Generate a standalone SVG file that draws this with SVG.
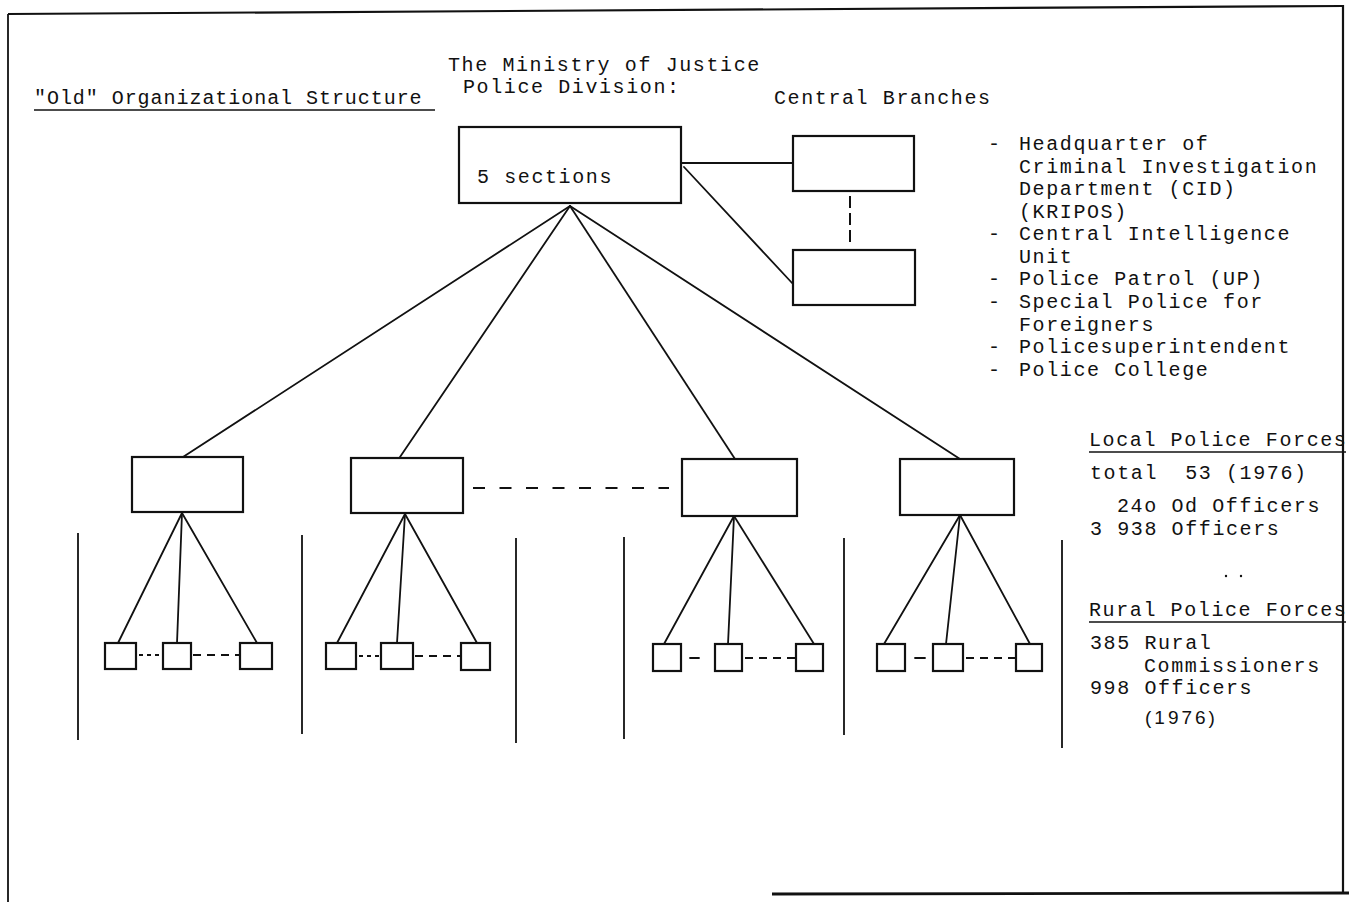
<svg xmlns="http://www.w3.org/2000/svg" width="1349" height="905" viewBox="0 0 1349 905">
<style>
  .bg{fill:#fff}
  .box{fill:none;stroke:#111;stroke-width:2.2}
  .ln{fill:none;stroke:#111;stroke-width:1.8;stroke-linecap:round}
  .sep{fill:none;stroke:#111;stroke-width:1.8}
  .frame{fill:none;stroke:#111;stroke-width:2.2}
  .dash{fill:none;stroke:#111;stroke-width:2;stroke-dasharray:12 14.5}
  .dot{fill:none;stroke:#111;stroke-width:2;stroke-dasharray:4 4}
  .dsh{fill:none;stroke:#111;stroke-width:2;stroke-dasharray:8 6}
  .t{font-family:"Liberation Mono","DejaVu Sans Mono",monospace;font-size:20px;letter-spacing:1.6px;fill:#111}
  .u{fill:none;stroke:#111;stroke-width:1.4}
  .s{font-family:"Liberation Sans","DejaVu Sans",sans-serif;font-size:19px;letter-spacing:3px;fill:#111}
</style>
<rect class="bg" x="0" y="0" width="1349" height="905"/>
<g id="frame">
  <line class="frame" x1="8" y1="14" x2="1343" y2="6"/>
  <line class="frame" x1="1343" y1="5" x2="1343" y2="893"/>
  <line class="sep" x1="8" y1="14" x2="8" y2="902"/>
  <line class="frame" x1="772" y1="894" x2="1349" y2="893" style="stroke-width:2.8"/>
</g>
<g id="titles">
  <text class="t" x="448" y="71">The Ministry of Justice</text>
  <text class="t" x="463" y="93">Police Division:</text>
  <text class="t" x="34" y="104" style="letter-spacing:0.95px">"Old" Organizational Structure</text>
  <line class="u" x1="34" y1="110" x2="435" y2="110"/>
  <text class="t" x="774" y="104">Central Branches</text>
</g>
<g id="central-list">
  <text class="t" x="988" y="150">-</text>
  <text class="t" x="1019" y="150">Headquarter of</text>
  <text class="t" x="1019" y="173">Criminal Investigation</text>
  <text class="t" x="1019" y="195">Department (CID)</text>
  <text class="t" x="1019" y="218">(KRIPOS)</text>
  <text class="t" x="988" y="240">-</text>
  <text class="t" x="1019" y="240">Central Intelligence</text>
  <text class="t" x="1019" y="263">Unit</text>
  <text class="t" x="988" y="285">-</text>
  <text class="t" x="1019" y="285">Police Patrol (UP)</text>
  <text class="t" x="988" y="308">-</text>
  <text class="t" x="1019" y="308">Special Police for</text>
  <text class="t" x="1019" y="331">Foreigners</text>
  <text class="t" x="988" y="353">-</text>
  <text class="t" x="1019" y="353">Policesuperintendent</text>
  <text class="t" x="988" y="376">-</text>
  <text class="t" x="1019" y="376">Police College</text>
</g>
<g id="local-info">
  <text class="t" x="1089" y="446">Local Police Forces</text>
  <line class="u" x1="1089" y1="452" x2="1346" y2="452"/>
  <text class="t" x="1090" y="479" xml:space="preserve">total  53 (1976)</text>
  <text class="t" x="1117" y="512">24o Od Officers</text>
  <text class="t" x="1090" y="535">3 938 Officers</text>
  <circle cx="1226" cy="576" r="1.2" fill="#111"/>
  <circle cx="1241" cy="576" r="1.2" fill="#111"/>
</g>
<g id="rural-info">
  <text class="t" x="1089" y="616">Rural Police Forces</text>
  <line class="u" x1="1089" y1="622" x2="1346" y2="622"/>
  <text class="t" x="1090" y="649">385 Rural</text>
  <text class="t" x="1144" y="672">Commissioners</text>
  <text class="t" x="1090" y="694">998 Officers</text>
  <text class="s" x="1145" y="724">(1976)</text>
</g>
<g id="ministry">
  <rect class="box" x="459" y="127" width="222" height="76"/>
  <text class="t" x="477" y="183">5 sections</text>
</g>
<g id="central-branch-1"><rect class="box" x="793" y="136" width="121" height="55"/></g>
<g id="central-branch-2"><rect class="box" x="793" y="250" width="122" height="55"/></g>
<g id="local-a"><rect class="box" x="132" y="457" width="111" height="55"/></g>
<g id="local-b"><rect class="box" x="351" y="458" width="112" height="55"/></g>
<g id="local-c"><rect class="box" x="682" y="459" width="115" height="57"/></g>
<g id="local-d"><rect class="box" x="900" y="459" width="114" height="56"/></g>
<g id="rural-a">
  <rect class="box" x="105" y="643" width="31" height="26"/>
  <rect class="box" x="163" y="643" width="28" height="26"/>
  <rect class="box" x="240" y="643" width="32" height="26"/>
</g>
<g id="rural-b">
  <rect class="box" x="326" y="643" width="30" height="26"/>
  <rect class="box" x="381" y="643" width="32" height="26"/>
  <rect class="box" x="461" y="643" width="29" height="27"/>
</g>
<g id="rural-c">
  <rect class="box" x="653" y="644" width="28" height="27"/>
  <rect class="box" x="715" y="644" width="27" height="27"/>
  <rect class="box" x="796" y="644" width="27" height="27"/>
</g>
<g id="rural-d">
  <rect class="box" x="877" y="644" width="28" height="27"/>
  <rect class="box" x="933" y="644" width="30" height="27"/>
  <rect class="box" x="1016" y="644" width="26" height="27"/>
</g>
<g id="connectors">
  <line class="ln" x1="681" y1="163" x2="793" y2="163"/>
  <line class="ln" x1="684" y1="167" x2="793" y2="284"/>
  <line class="dsh" x1="850" y1="196" x2="850" y2="243" style="stroke-dasharray:12 5"/>
  <line class="ln" x1="570" y1="206" x2="183" y2="457"/>
  <line class="ln" x1="570" y1="206" x2="400" y2="457"/>
  <line class="ln" x1="570" y1="206" x2="735" y2="459"/>
  <line class="ln" x1="570" y1="206" x2="960" y2="459"/>
  <line class="dash" x1="473" y1="488" x2="669" y2="488"/>
  <line class="ln" x1="182" y1="513" x2="118" y2="643"/>
  <line class="ln" x1="182" y1="513" x2="177" y2="643"/>
  <line class="ln" x1="182" y1="513" x2="257" y2="643"/>
  <line class="ln" x1="405" y1="514" x2="337" y2="643"/>
  <line class="ln" x1="405" y1="514" x2="397" y2="643"/>
  <line class="ln" x1="405" y1="514" x2="477" y2="643"/>
  <line class="ln" x1="734" y1="516" x2="664" y2="644"/>
  <line class="ln" x1="734" y1="516" x2="728" y2="644"/>
  <line class="ln" x1="734" y1="516" x2="814" y2="644"/>
  <line class="ln" x1="960" y1="515" x2="884" y2="644"/>
  <line class="ln" x1="960" y1="515" x2="946" y2="644"/>
  <line class="ln" x1="960" y1="515" x2="1030" y2="644"/>
  <line class="dot" x1="139" y1="655" x2="162" y2="655"/>
  <line class="dsh" x1="193" y1="655" x2="240" y2="655"/>
  <line class="dot" x1="359" y1="656" x2="380" y2="656"/>
  <line class="dsh" x1="415" y1="656" x2="461" y2="656"/>
  <line class="ln" x1="690" y1="658" x2="699" y2="658"/>
  <line class="dsh" x1="745" y1="658" x2="796" y2="658"/>
  <line class="ln" x1="915" y1="658" x2="925" y2="658"/>
  <line class="dsh" x1="966" y1="658" x2="1016" y2="658"/>
  <line class="sep" x1="78" y1="533" x2="78" y2="740"/>
  <line class="sep" x1="302" y1="535" x2="302" y2="734"/>
  <line class="sep" x1="516" y1="538" x2="516" y2="743"/>
  <line class="sep" x1="624" y1="537" x2="624" y2="739"/>
  <line class="sep" x1="844" y1="538" x2="844" y2="735"/>
  <line class="sep" x1="1062" y1="540" x2="1062" y2="748"/>
</g>
</svg>
